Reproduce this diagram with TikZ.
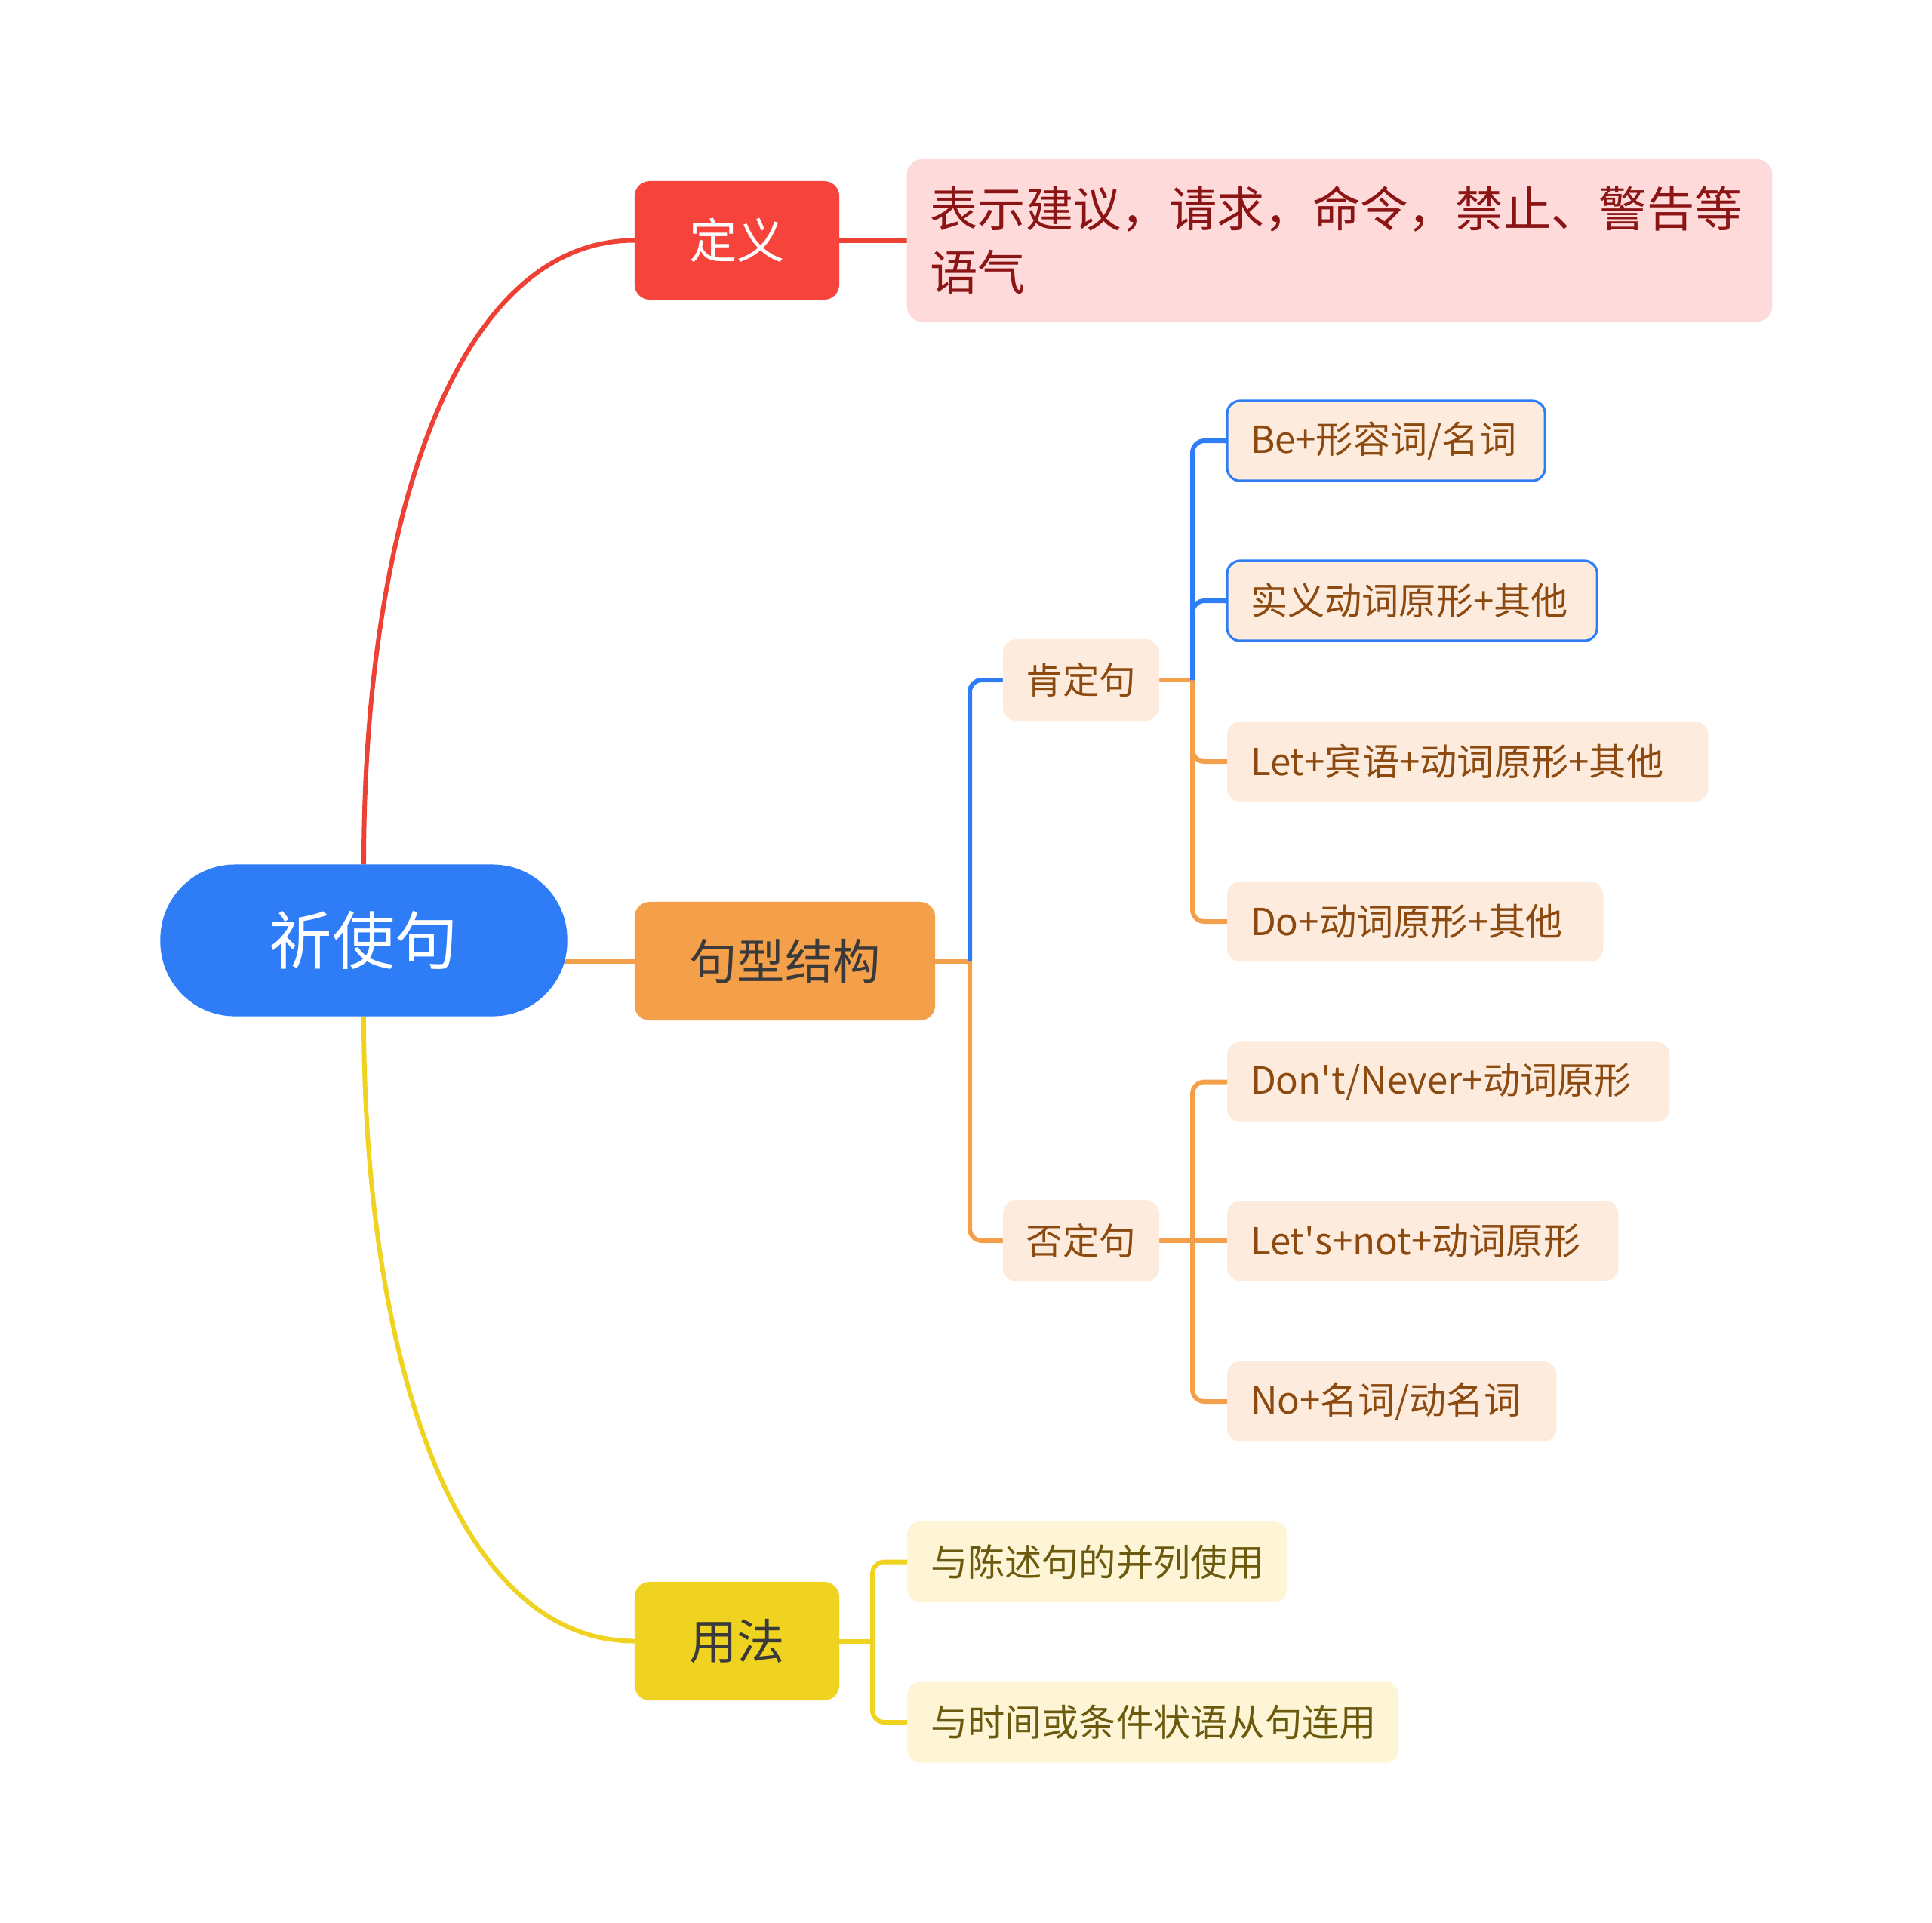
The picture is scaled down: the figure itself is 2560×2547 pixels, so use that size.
\documentclass[tikz,border=0pt]{standalone}
\usepackage{fontspec}
\newfontfamily\cjk{Noto Sans CJK SC}
\usepackage{textcomp}
\usetikzlibrary{backgrounds,calc}
\definecolor{rootblue}{HTML}{2E7CF6}
\definecolor{defred}{HTML}{F6433B}
\definecolor{redline}{HTML}{EE4136}
\definecolor{orangec}{HTML}{F4A04B}
\definecolor{yellowc}{HTML}{F0D321}
\definecolor{peach}{HTML}{FDECDD}
\definecolor{peachtext}{HTML}{8C4A10}
\definecolor{pinkc}{HTML}{FFDADA}
\definecolor{darkredc}{HTML}{8B1515}
\definecolor{paleyellow}{HTML}{FDF5D5}
\definecolor{olivetext}{HTML}{6B5A0E}
\definecolor{darktext}{HTML}{3A3A3A}
\begin{document}
\begin{tikzpicture}[x=0.01cm,y=-0.01cm,
  every node/.style={font=\cjk, inner sep=0pt, outer sep=0pt},
  rootnode/.style={fill=rootblue, text=white, rounded corners=0.99cm,
    minimum width=5.39cm, minimum height=2.01cm, font=\cjk\fontsize{23.7}{28}\selectfont},
  topnode/.style={rounded corners=0.2cm, minimum height=1.57cm,
    font=\cjk\fontsize{18}{22}\selectfont},
  subnode/.style={fill=peach, text=peachtext, rounded corners=0.18cm,
    minimum width=2.07cm, minimum height=1.08cm, font=\cjk\fontsize{13.8}{17}\selectfont},
  leafnode/.style={fill=peach, text=peachtext, rounded corners=0.17cm, anchor=west,
    inner xsep=0.31cm, align=left,
    minimum height=1.06cm, font=\cjk\fontsize{14}{17}\selectfont},
  selnode/.style={draw=rootblue, line width=0.9pt},
  useleaf/.style={fill=paleyellow, text=olivetext, rounded corners=0.17cm, anchor=west,
    inner xsep=0.31cm, align=left,
    minimum height=1.07cm, font=\cjk\fontsize{14}{17}\selectfont},
  conn/.style={line width=1.7pt, rounded corners=0.16cm},
  redconn/.style={conn, draw=redline},
  orangeconn/.style={conn, draw=orangec},
  yellowconn/.style={conn, draw=yellowc},
  blueconn/.style={conn, draw=rootblue}
]
\useasboundingbox (0,0) rectangle (2560,2547);

% main nodes
\node[rootnode] (root) at (482,1246) {祈使句};
\node[topnode, fill=defred, text=white, minimum width=2.71cm] (def) at (976.5,318.5) {定义};
\node[fill=pinkc, text=darkredc, rounded corners=0.2cm, text width=10.84cm, inner xsep=0.31cm,
  minimum height=2.15cm, align=left, font=\cjk\fontsize{18}{23.9}\selectfont]
  (defbox) at (1775,318.5) {表示建议，请求，命令，禁止、警告等\\语气};
\node[topnode, fill=orangec, text=darktext, minimum width=3.98cm] (struct) at (1040,1273.5) {句型结构};
\node[topnode, fill=yellowc, text=darktext, minimum width=2.71cm] (usage) at (976.5,2174.5) {用法};

% level 2
\node[subnode] (pos) at (1432.5,901) {肯定句};
\node[subnode] (neg) at (1432.5,1644) {否定句};

% leaves
\node[leafnode, selnode, text width=3.59cm] (L1) at (1626,584) {Be+形容词/名词};
\node[leafnode, selnode, text width=4.28cm] (L2) at (1626,796) {实义动词原形+其他};
\node[leafnode, text width=5.75cm] (L3) at (1626,1009) {Let+宾语+动词原形+其他};
\node[leafnode, text width=4.36cm] (L4) at (1626,1221) {Do+动词原形+其他};
\node[leafnode, text width=5.24cm] (L5) at (1626,1433.5) {Don\textquotesingle t/Never+动词原形};
\node[leafnode, text width=4.56cm] (L6) at (1626,1644) {Let\textquotesingle s+not+动词原形};
\node[leafnode, text width=3.74cm] (L7) at (1626,1857) {No+名词/动名词};
\node[useleaf, text width=4.41cm] (U1) at (1202,2069.5) {与陈述句的并列使用};
\node[useleaf, text width=5.89cm] (U2) at (1202,2282) {与时间或条件状语从句连用};

\coordinate (j1) at (1285,1273.5);
\coordinate (j2) at (1580,901);
\coordinate (j3) at (1580,1644);
\coordinate (j4) at (1156,2174.5);

\begin{pgfonlayer}{background}
  \draw[redconn, rounded corners=0pt] (root.north) .. controls (482,700) and (600,318.5) .. (def.west);
  \draw[redconn] (def.east) -- (defbox.west);
  \draw[orangeconn] (root.center |- struct.west) -- (struct.west);
  \draw[yellowconn, rounded corners=0pt] (root.south) .. controls (482,1793) and (600,2174.5) .. (usage.west);

  \draw[orangeconn] (struct.east) -- (j1);
  \draw[orangeconn] (j1) |- (neg.west);
  \draw[blueconn] (j1) |- (pos.west);

  \draw[orangeconn] (pos.east) -- (j2);
  \draw[orangeconn] (j2) |- (L3.west);
  \draw[orangeconn] (j2) |- (L4.west);
  \draw[blueconn] (j2) |- (L1.west);
  \draw[blueconn] (j2) |- (L2.west);

  \draw[orangeconn] (neg.east) -- (L6.west);
  \draw[orangeconn] (j3) |- (L5.west);
  \draw[orangeconn] (j3) |- (L7.west);

  \draw[yellowconn] (usage.east) -- (j4);
  \draw[yellowconn] (j4) |- (U1.west);
  \draw[yellowconn] (j4) |- (U2.west);
\end{pgfonlayer}
\end{tikzpicture}
\end{document}
